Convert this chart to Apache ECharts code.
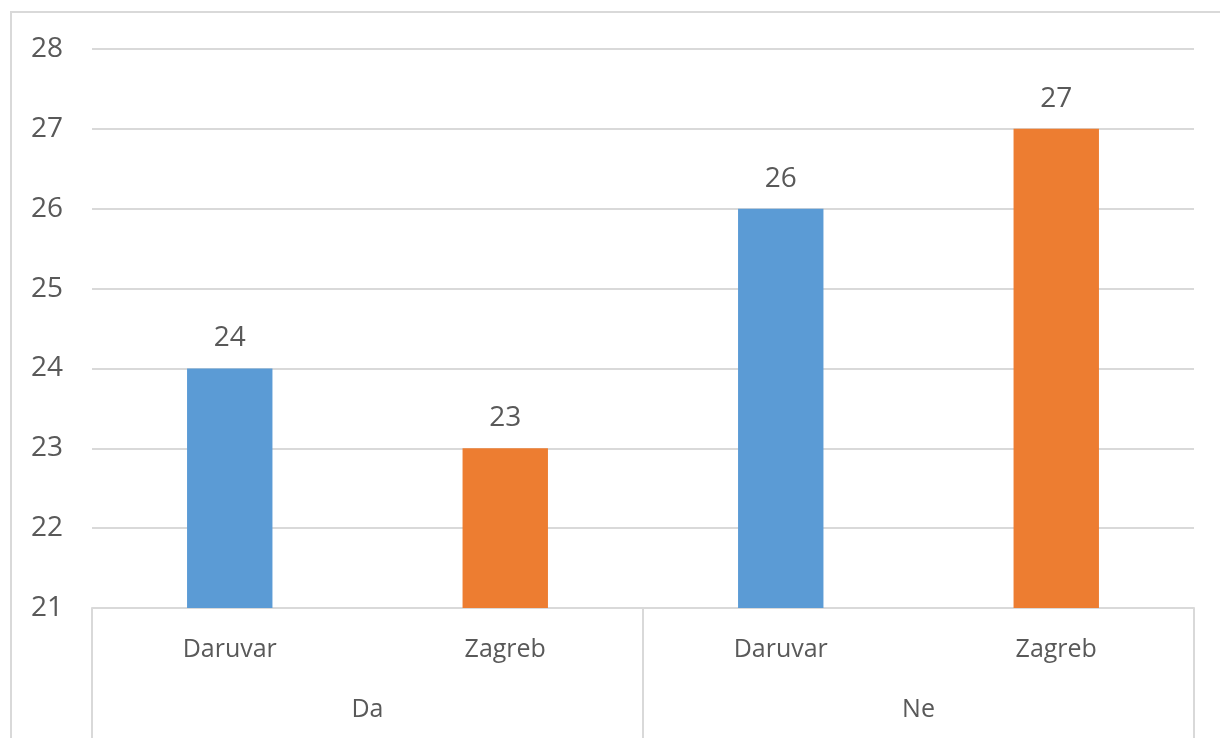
<!DOCTYPE html>
<html>
<head>
<meta charset="utf-8">
<script src="https://cdn.jsdelivr.net/npm/echarts@6/dist/echarts.min.js"></script>
<style>
  html, body { margin: 0; padding: 0; background: #fff; }
  #chart { width: 1220px; height: 738px; }
</style>
</head>
<body>
<div id="chart"></div>
<script>
// Outer grouping (second axis row) and the cities inside each group
const groups = ['Da', 'Ne'];
const cities = ['Daruvar', 'Zagreb', 'Daruvar', 'Zagreb'];
const values = [24, 23, 26, 27];
const cityColors = { Daruvar: '#5b9bd5', Zagreb: '#ed7d31' };
const yTicks = { min: 21, max: 28, step: 1 };

const textColor = '#595959';
const lineColor = '#d9d9d9';
const fontFamily = '"Open Sans", "Noto Sans", sans-serif';

const chart = echarts.init(document.getElementById('chart'), null, { renderer: 'canvas' });

chart.setOption({
  animation: false,
  backgroundColor: '#ffffff',
  grid: { left: 92, right: 26, top: 49, bottom: 130, containLabel: false },
  graphic: [{
    type: 'polyline',
    shape: { points: [[11, 740], [11, 12], [1222, 12]] },
    style: { stroke: lineColor, lineWidth: 2, fill: null },
    silent: true
  }],
  xAxis: [
    {
      type: 'category',
      data: cities,
      position: 'bottom',
      axisLine: { show: false },
      axisTick: { show: false },
      axisLabel: { color: textColor, fontSize: 25, fontFamily, margin: 29 }
    },
    {
      type: 'category',
      data: groups,
      position: 'bottom',
      axisLine: { show: true, lineStyle: { color: lineColor, width: 2 } },
      axisTick: { show: true, length: 132, interval: 0, lineStyle: { color: lineColor, width: 2 } },
      axisLabel: { color: textColor, fontSize: 25, fontFamily, margin: 89 }
    }
  ],
  yAxis: {
    type: 'value',
    min: yTicks.min,
    max: yTicks.max,
    interval: yTicks.step,
    axisLine: { show: false },
    axisTick: { show: false },
    splitLine: { lineStyle: { color: lineColor, width: 2 } },
    axisLabel: { color: textColor, fontSize: 28, fontFamily, margin: 29 }
  },
  series: [{
    type: 'bar',
    xAxisIndex: 0,
    barWidth: '31%',
    data: values.map((v, i) => ({ value: v, itemStyle: { color: cityColors[cities[i]] } })),
    label: {
      show: true,
      position: 'top',
      distance: 16,
      color: textColor,
      fontSize: 28,
      fontFamily
    }
  }]
});
</script>
</body>
</html>
